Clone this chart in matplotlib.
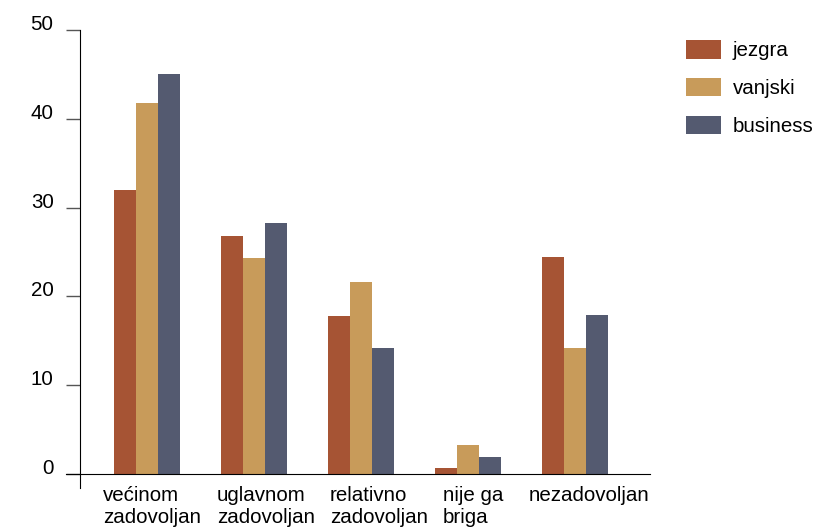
import numpy as np
import matplotlib
matplotlib.use("Agg")
import matplotlib.pyplot as plt
from matplotlib.transforms import ScaledTranslation

plt.rcParams["font.family"] = ["Liberation Sans", "DejaVu Sans"]

categories = ["većinom\nzadovoljan", "uglavnom\nzadovoljan", "relativno\nzadovoljan", "nije ga\nbriga", "nezadovoljan"]
series = ["jezgra", "vanjski", "business"]
jezgra = [32.0, 26.8, 17.8, 0.7, 24.4]
vanjski = [41.8, 24.3, 21.6, 3.3, 14.2]
business = [45.0, 28.3, 14.2, 1.9, 17.9]
colors = ["#A65434", "#C89B5A", "#545A70"]

FS = 14.8

fig = plt.figure(figsize=(8.14, 5.28), dpi=100)
ax = fig.add_axes([66 / 814, 1 - 488 / 528, (650 - 66) / 814, (488 - 30) / 528])

x = np.arange(len(categories))
w = 0.206
for i, (name, vals) in enumerate(zip(series, [jezgra, vanjski, business])):
    ax.bar(x + (i - 1) * w, vals, width=w, color=colors[i], label=name)

ax.set_xlim(-0.757, 4.70)
ax.set_ylim(-1.58, 50)
ax.spines["top"].set_visible(False)
ax.spines["right"].set_visible(False)
ax.spines["left"].set_position(("data", -0.626))
ax.spines["bottom"].set_position(("data", 0))

ax.set_yticks([0, 10, 20, 30, 40, 50])
ax.tick_params(axis="y", direction="out", length=10, width=1, color="#555555", pad=9, labelsize=FS)
for lbl in ax.get_yticklabels():
    lbl.set_va("baseline")

ax.set_xticks(x)
ax.set_xticklabels(categories, fontsize=FS, multialignment="left")
ax.tick_params(axis="x", length=0, pad=9)
# the labels in the original sit a little right of the groups
shifts = [5, 12, 18, 5, 14]
for lbl, dx in zip(ax.get_xticklabels(), shifts):
    lbl.set_transform(lbl.get_transform() + ScaledTranslation(dx / 100, 0, fig.dpi_scale_trans))

ax.legend(loc="upper left", bbox_to_anchor=(678 / 814, 1 - 32 / 528), bbox_transform=fig.transFigure,
          frameon=False, fontsize=FS, handlelength=1.7, handleheight=1.0, labelspacing=0.85,
          handletextpad=0.55, borderaxespad=0)

fig.savefig("out.png", dpi=100)
